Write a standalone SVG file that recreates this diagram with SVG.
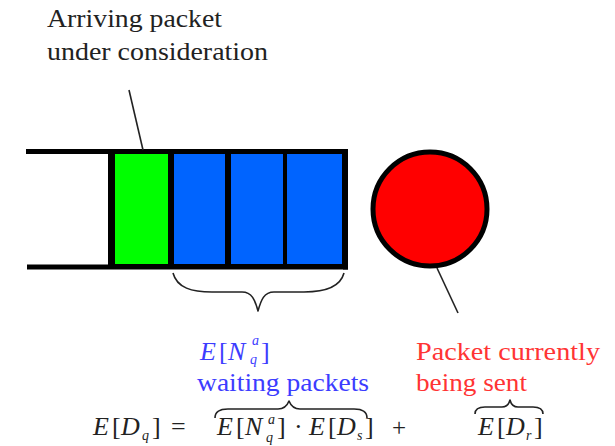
<svg xmlns="http://www.w3.org/2000/svg" width="615" height="446" viewBox="0 0 615 446" font-family="Liberation Serif, DejaVu Serif, serif">
<style>
  text { font-size: 25px; fill: #222; }
  .m { font-size: 26px; }
  .blue { fill: #3c3cff; }
  .red { fill: #ff3434; }
  .it { font-style: italic; }
  .sc { font-size: 14px; }
  .wall { stroke: #000; stroke-width: 5; fill: none; }
  .conn { stroke: #222; stroke-width: 1.6; fill: none; }
  .brace { stroke: #222; stroke-width: 1.6; fill: none; stroke-linejoin: round; }
</style>
<rect width="615" height="446" fill="#fff"/>

<g id="queue">
  <rect x="108" y="151" width="238" height="116" fill="#000"/>
  <line class="wall" x1="26" y1="151.5" x2="348" y2="151.5"/>
  <line class="wall" x1="27" y1="267" x2="348" y2="267"/>
  <line class="wall" x1="345.5" y1="149" x2="345.5" y2="269.5"/>
</g>
<g id="arriving-packet">
  <rect x="115" y="154" width="53" height="110" fill="#00ff00"/>
</g>
<g id="waiting-1">
  <rect x="174" y="154" width="51" height="110" fill="#0064ff"/>
</g>
<g id="waiting-2">
  <rect x="231" y="154" width="52" height="110" fill="#0064ff"/>
</g>
<g id="waiting-3">
  <rect x="287" y="154" width="55" height="110" fill="#0064ff"/>
</g>
<g id="server">
  <circle cx="430" cy="209" r="57" fill="#ff0000" stroke="#000" stroke-width="5"/>
</g>

<g id="label-arriving">
  <text x="47" y="27" textLength="175" lengthAdjust="spacingAndGlyphs">Arriving packet</text>
  <text x="47" y="60" textLength="221" lengthAdjust="spacingAndGlyphs">under consideration</text>
</g>

<g id="label-waiting">
  <text class="blue m"><tspan class="it" x="200" y="360">E</tspan><tspan x="219" y="360">[</tspan><tspan class="it" x="228" y="360">N</tspan><tspan class="it sc" x="252" y="345">a</tspan><tspan class="it sc" x="250" y="364">q</tspan><tspan x="261" y="360">]</tspan></text>
  <text class="blue" x="197" y="391" textLength="172" lengthAdjust="spacingAndGlyphs">waiting packets</text>
</g>

<g id="label-sent">
  <text class="red" x="416" y="360" textLength="184" lengthAdjust="spacingAndGlyphs">Packet currently</text>
  <text class="red" x="416" y="391" textLength="111" lengthAdjust="spacingAndGlyphs">being sent</text>
</g>

<g id="equation">
  <text class="m"><tspan class="it" x="93" y="435">E</tspan><tspan x="112" y="435">[</tspan><tspan class="it" x="121" y="435">D</tspan><tspan class="it sc" x="142" y="440">q</tspan><tspan x="152" y="435">]</tspan><tspan x="171" y="435">=</tspan></text>
  <text class="m"><tspan class="it" x="217" y="435">E</tspan><tspan x="236" y="435">[</tspan><tspan class="it" x="245" y="435">N</tspan><tspan class="it sc" x="268" y="424">a</tspan><tspan class="it sc" x="266" y="442">q</tspan><tspan x="277" y="435">]</tspan><tspan x="294" y="435">·</tspan><tspan class="it" x="309" y="435">E</tspan><tspan x="328" y="435">[</tspan><tspan class="it" x="337" y="435">D</tspan><tspan class="it sc" x="357" y="440">s</tspan><tspan x="365" y="435">]</tspan></text>
  <text x="392" y="436">+</text>
  <text class="m"><tspan class="it" x="478" y="435">E</tspan><tspan x="497" y="435">[</tspan><tspan class="it" x="506" y="435">D</tspan><tspan class="it sc" x="526" y="440">r</tspan><tspan x="534" y="435">]</tspan></text>
</g>

<g id="connectors">
  <line class="conn" x1="129" y1="90" x2="143" y2="150"/>
  <line class="conn" x1="437" y1="268" x2="458" y2="313"/>
  <path class="brace" d="M173,273 C177,288 192,292 212,292 L242,292 C252,292 255,300 258,311 C261,300 264,292 274,292 L304,292 C324,292 340,288 344,273"/>
  <path class="brace" d="M215,418 C215,412 219,409 228,409 L278,409 C284,409 287,406 289,401 C291,406 294,409 300,409 L354,409 C363,409 367,412 367,418" stroke-width="2"/>
  <path class="brace" d="M475,414 C475,409 478,407 485,407 L502,407 C507,407 509,404 510,400 C511,404 513,407 518,407 L533,407 C540,407 543,409 543,414" stroke-width="2"/>
</g>
</svg>
